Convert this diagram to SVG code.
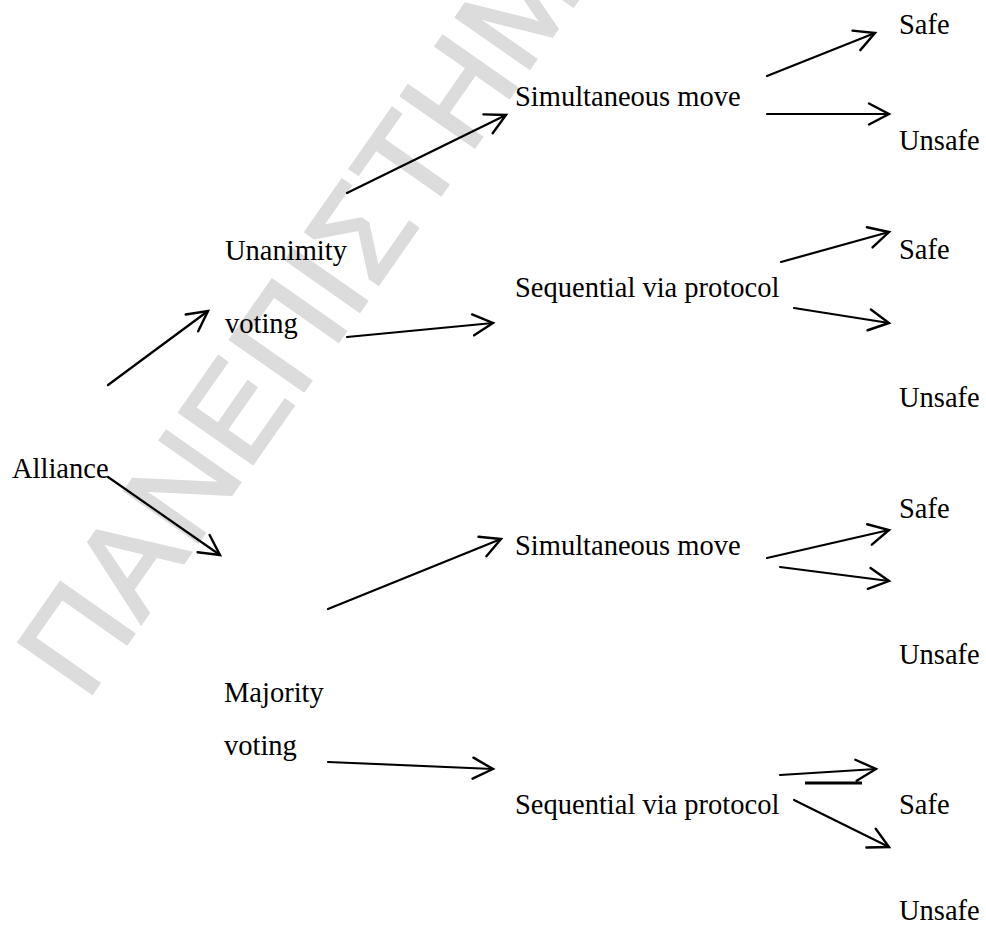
<svg xmlns="http://www.w3.org/2000/svg" width="986" height="927" viewBox="0 0 986 927">
<style>
.t{font-family:"Liberation Serif","Times New Roman",serif;font-size:28.5px;fill:#000}
.c{fill:none;stroke:#000;stroke-width:2.2;stroke-linecap:round;marker-end:url(#ah)}
.wm{font-family:"Liberation Sans",Arial,sans-serif;font-size:130px;fill:#dcdcdc;stroke:#dcdcdc;stroke-width:3;letter-spacing:2px}
</style>
<defs>
<marker id="ah" markerUnits="userSpaceOnUse" orient="auto" refX="0" refY="0" markerWidth="30" markerHeight="30" overflow="visible">
<path d="M-20,-10.5 L0,0 L-20,10.5" fill="none" stroke="#000" stroke-width="2.4" stroke-linecap="round" stroke-linejoin="miter"/>
</marker>
</defs>
<rect width="986" height="927" fill="#fff"/>
<text class="wm" transform="translate(86,702) rotate(-55)">ΠΑΝΕΠΙΣΤΗΜΙΟ</text>
<g id="connectors">
<line class="c" x1="108" y1="385" x2="208" y2="311"/>
<line class="c" x1="108" y1="477" x2="220" y2="555"/>
<line class="c" x1="347" y1="193" x2="506" y2="115"/>
<line class="c" x1="347" y1="337" x2="493" y2="323"/>
<line class="c" x1="328" y1="609" x2="501" y2="539"/>
<line class="c" x1="328" y1="762" x2="493" y2="769"/>
<line class="c" x1="767" y1="76" x2="875" y2="33"/>
<line class="c" x1="767" y1="114" x2="889" y2="114"/>
<line class="c" x1="781" y1="262" x2="889" y2="232"/>
<line class="c" x1="794" y1="308" x2="889" y2="323"/>
<line class="c" x1="767" y1="558" x2="889" y2="530"/>
<line class="c" x1="780" y1="567" x2="889" y2="581"/>
<line class="c" x1="780" y1="775" x2="876" y2="769"/>
<line x1="805" y1="783" x2="862" y2="783" stroke="#000" stroke-width="3"/>
<line class="c" x1="794" y1="800" x2="889" y2="847"/>
</g>
<g id="n-alliance"><text class="t" x="12" y="478">Alliance</text></g>
<g id="n-unanimity"><text class="t" x="225" y="260">Unanimity</text><text class="t" x="225" y="333">voting</text></g>
<g id="n-majority"><text class="t" x="224" y="702">Majority</text><text class="t" x="224" y="755">voting</text></g>
<g id="n-sim1"><text class="t" x="515" y="106">Simultaneous move</text></g>
<g id="n-seq1"><text class="t" x="515" y="297">Sequential via protocol</text></g>
<g id="n-sim2"><text class="t" x="515" y="555">Simultaneous move</text></g>
<g id="n-seq2"><text class="t" x="515" y="814">Sequential via protocol</text></g>
<g id="n-safe1"><text class="t" x="899" y="34">Safe</text></g>
<g id="n-unsafe1"><text class="t" x="899" y="150">Unsafe</text></g>
<g id="n-safe2"><text class="t" x="899" y="259">Safe</text></g>
<g id="n-unsafe2"><text class="t" x="899" y="407">Unsafe</text></g>
<g id="n-safe3"><text class="t" x="899" y="518">Safe</text></g>
<g id="n-unsafe3"><text class="t" x="899" y="664">Unsafe</text></g>
<g id="n-safe4"><text class="t" x="899" y="814">Safe</text></g>
<g id="n-unsafe4"><text class="t" x="899" y="920">Unsafe</text></g>
</svg>
